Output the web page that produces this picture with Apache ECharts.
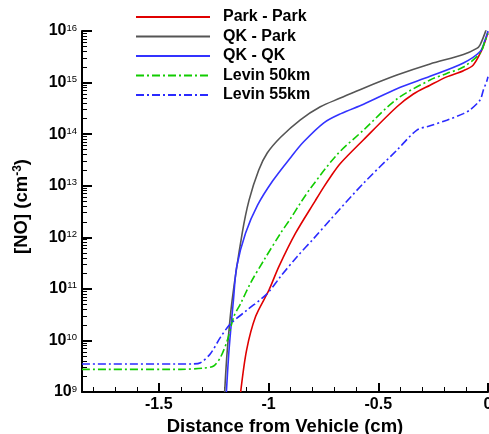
<!DOCTYPE html>
<html>
<head>
<meta charset="utf-8">
<script src="https://cdn.jsdelivr.net/npm/echarts@6/dist/echarts.min.js"></script>
<style>
html,body{margin:0;padding:0;background:#fff;}
#chart{width:489px;height:434px;}
</style>
</head>
<body>
<div id="chart"></div>
<script>
// ---- data (x in cm, y = [NO] in cm^-3) ----
const seriesNames = ['Park - Park', 'QK - Park', 'QK - QK', 'Levin 50km', 'Levin 55km'];

const parkParkX = [-1.127, -1.1, -1.059, -0.998, -0.953, -0.877, -0.786, -0.748, -0.718, -0.673, -0.567, -0.415, -0.34, -0.264, -0.188, -0.112, -0.067, -0.029, -0.014, 0];
const parkParkY = [1e9, 6.5e9, 2.9e10, 9.5e10, 2.7e11, 1.2e12, 5.2e12, 9.5e12, 1.48e13, 2.7e13, 7.8e13, 3.4e14, 6.0e14, 8.9e14, 1.29e15, 1.7e15, 2.2e15, 4.2e15, 6.2e15, 9.5e15];

const qkParkX = [-1.2, -1.188, -1.166, -1.12, -1.089, -1.045, -1.006, -0.945, -0.855, -0.764, -0.673, -0.567, -0.415, -0.264, -0.112, -0.051, -0.036, -0.014, -0.006, 0];
const qkParkY = [1e9, 6.5e9, 6.0e10, 1.2e12, 5.2e12, 2.0e13, 4.3e13, 8.7e13, 1.9e14, 3.4e14, 5.0e14, 7.8e14, 1.4e15, 2.3e15, 3.5e15, 4.6e15, 5.4e15, 9.1e15, 1.2e16, 1.8e16];

const qkQkX = [-1.192, -1.18, -1.16, -1.145, -1.105, -1.05, -0.98, -0.9, -0.84, -0.748, -0.67, -0.567, -0.415, -0.264, -0.112, -0.036, -0.014, 0];
const qkQkY = [1e9, 6.5e9, 6.0e10, 2.7e11, 1.2e12, 4.2e12, 1.26e13, 3.5e13, 7.1e13, 1.66e14, 2.5e14, 3.8e14, 7.6e14, 1.32e15, 2.4e15, 4.0e15, 6.6e15, 1.0e16];

const levin50X = [-1.85, -1.4, -1.3, -1.25, -1.218, -1.188, -1.158, -1.127, -1.082, -1.021, -0.945, -0.9, -0.855, -0.809, -0.688, -0.567, -0.415, -0.264, -0.188, -0.112, -0.036, -0.014, 0];
const levin50Y = [2.75e9, 2.75e9, 2.9e9, 3.2e9, 4.8e9, 1.0e10, 2.9e10, 5.2e10, 1.3e11, 3.6e11, 1.2e12, 2.3e12, 4.6e12, 8.9e12, 4.0e13, 1.2e14, 4.8e14, 1.12e15, 1.5e15, 2.0e15, 3.7e15, 6.3e15, 8.9e15];

const levin55X = [-1.85, -1.35, -1.31, -1.264, -1.218, -1.173, -1.097, -1.006, -0.945, -0.87, -0.794, -0.718, -0.567, -0.415, -0.324, -0.264, -0.188, -0.112, -0.082, -0.036, -0.021, -0.006, 0];
const levin55Y = [3.5e9, 3.5e9, 3.7e9, 5.6e9, 1.17e10, 2.1e10, 3.9e10, 8.1e10, 1.74e11, 4.2e11, 9.5e11, 2.2e12, 1.12e13, 4.9e13, 1.2e14, 1.45e14, 1.86e14, 2.5e14, 2.95e14, 4.6e14, 7.2e14, 1.05e15, 1.3e15];

// ---- axis ticks ----
const xMajorTicks = [-1.5, -1, -0.5, 0];
const xMinorTicks = [-1.8, -1.7, -1.6, -1.4, -1.3, -1.2, -1.1, -0.9, -0.8, -0.7, -0.6, -0.4, -0.3, -0.2, -0.1];
const yDecadeMin = 9, yDecadeMax = 16;
const yMinorTicks = [];
for (let n = yDecadeMin; n < yDecadeMax; n++) {
  for (let k = 2; k <= 9; k++) yMinorTicks.push(n + Math.log10(k));
}

const zip = (xs, ys) => xs.map((x, i) => [x, ys[i]]);

const FONT = 'Liberation Sans';
const dashDot = [8, 3, 2, 3];

function lineSeries(name, xs, ys, color, dashed) {
  return {
    name: name,
    type: 'line',
    xAxisIndex: 0,
    yAxisIndex: 0,
    data: zip(xs, ys),
    symbol: 'none',
    smooth: 0.3,
    clip: true,
    lineStyle: { color: color, width: 1.6, type: dashed ? dashDot : 'solid' },
    itemStyle: { color: color }
  };
}

const chart = echarts.init(document.getElementById('chart'), null, { renderer: 'canvas' });
chart.setOption({
  animation: false,
  backgroundColor: '#ffffff',
  grid: { left: 82, right: 1, top: 31, bottom: 42, containLabel: false, outerBoundsMode: 'none' },
  legend: {
    orient: 'vertical',
    left: 135,
    top: 8.5,
    padding: 0,
    itemWidth: 74,
    itemHeight: 12,
    itemGap: 2.5,
    data: seriesNames,
    itemStyle: { opacity: 0 },
    textStyle: { fontFamily: FONT, fontSize: 16, fontWeight: 'bold', color: '#000', padding: [0, 0, 0, 8], lineHeight: 17 }
  },
  xAxis: [
    {
      gridIndex: 0,
      type: 'value',
      min: -1.85,
      max: 0,
      position: 'bottom',
      splitLine: { show: false },
      axisLine: { show: true, onZero: false, lineStyle: { color: '#000', width: 2 } },
      axisTick: { show: true, inside: true, length: 9, customValues: xMajorTicks, lineStyle: { color: '#000', width: 2 } },
      axisLabel: {
        customValues: xMajorTicks,
        formatter: v => String(v),
        fontFamily: FONT, fontSize: 16, fontWeight: 'bold', color: '#000', margin: 5
      },
      name: 'Distance from Vehicle (cm)',
      nameLocation: 'middle',
      nameGap: 18,
      nameTextStyle: { fontFamily: FONT, fontSize: 18.5, fontWeight: 'bold', color: '#000' }
    },
    {
      gridIndex: 0,
      type: 'value',
      min: -1.85,
      max: 0,
      position: 'bottom',
      offset: 0,
      splitLine: { show: false },
      axisLine: { show: false, onZero: false },
      axisTick: { show: true, inside: true, length: 5, customValues: xMinorTicks, lineStyle: { color: '#000', width: 1 } },
      axisLabel: { show: false }
    }
  ],
  yAxis: [
    {
      gridIndex: 0,
      type: 'log',
      logBase: 10,
      min: 1e9,
      max: 1e16,
      position: 'left',
      splitLine: { show: false },
      axisLine: { show: true, onZero: false, lineStyle: { color: '#000', width: 2 } },
      axisTick: { show: true, inside: true, length: 10, lineStyle: { color: '#000', width: 2 } },
      minorTick: { show: false },
      axisLabel: {
        margin: 5,
        formatter: v => '{b|10}{e|' + Math.round(Math.log10(v)) + '}',
        rich: {
          b: { fontFamily: FONT, fontSize: 16, fontWeight: 'bold', color: '#000' },
          e: { fontFamily: FONT, fontSize: 9.5, color: '#000', verticalAlign: 'top', padding: [0, 0, 6, 0] }
        }
      },
      name: '{t|[NO] (cm}{s|-3}{t|)}',
      nameLocation: 'middle',
      nameRotate: 90,
      nameGap: 51,
      nameTextStyle: {
        padding: [0, 0, 0, 10],
        rich: {
          t: { fontFamily: FONT, fontSize: 18.5, fontWeight: 'bold', color: '#000' },
          s: { fontFamily: FONT, fontSize: 12, fontWeight: 'bold', color: '#000', verticalAlign: 'top', padding: [0, 0, 4, 0] }
        }
      }
    },
    {
      gridIndex: 0,
      type: 'value',
      min: yDecadeMin,
      max: yDecadeMax,
      position: 'left',
      offset: 0,
      splitLine: { show: false },
      axisLine: { show: false, onZero: false },
      axisTick: { show: true, inside: true, length: 5, customValues: yMinorTicks, lineStyle: { color: '#000', width: 1 } },
      axisLabel: { show: false }
    }
  ],
  series: [
    lineSeries(seriesNames[0], parkParkX, parkParkY, '#e00000', false),
    lineSeries(seriesNames[1], qkParkX, qkParkY, '#555555', false),
    lineSeries(seriesNames[2], qkQkX, qkQkY, '#3333ff', false),
    lineSeries(seriesNames[3], levin50X, levin50Y, '#11cc00', true),
    lineSeries(seriesNames[4], levin55X, levin55Y, '#2a2aff', true)
  ]
});
</script>
</body>
</html>
